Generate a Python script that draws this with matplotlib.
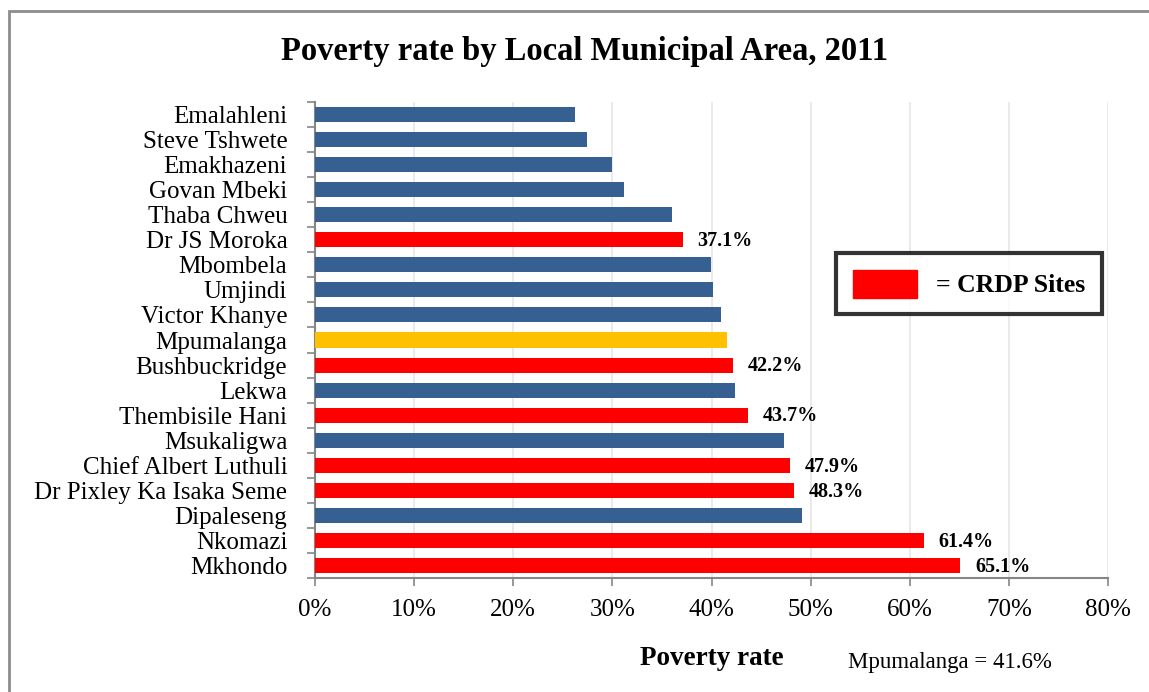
import matplotlib.pyplot as plt
from matplotlib.patches import Patch, Rectangle
import numpy as np

areas = ["Emalahleni", "Steve Tshwete", "Emakhazeni", "Govan Mbeki", "Thaba Chweu",
         "Dr JS Moroka", "Mbombela", "Umjindi", "Victor Khanye", "Mpumalanga",
         "Bushbuckridge", "Lekwa", "Thembisile Hani", "Msukaligwa",
         "Chief Albert Luthuli", "Dr Pixley Ka Isaka Seme", "Dipaleseng",
         "Nkomazi", "Mkhondo"]
rate = np.array([26.2, 27.4, 30.0, 31.2, 36.0, 37.1, 39.9, 40.1, 41.0, 41.6,
                 42.2, 42.4, 43.7, 47.3, 47.9, 48.3, 49.1, 61.4, 65.1])
crdp = ["Dr JS Moroka", "Bushbuckridge", "Thembisile Hani", "Chief Albert Luthuli",
        "Dr Pixley Ka Isaka Seme", "Nkomazi", "Mkhondo"]
province = "Mpumalanga"
province_rate = 41.6

BLUE = "#376092"
RED = "#ff0000"
GOLD = "#ffc000"
AXIS_GREY = "#868686"

plt.rcParams["font.family"] = ["Liberation Serif", "DejaVu Serif"]

colors = []
for a in areas:
    if a == province:
        colors.append(GOLD)
    elif a in crdp:
        colors.append(RED)
    else:
        colors.append(BLUE)

fig = plt.figure(figsize=(11.49, 6.92), dpi=100)
ax = fig.add_axes([0.2742, 0.1647, 0.6901, 0.6879])

y = np.arange(len(areas))
ax.barh(y, rate, height=0.6, color=colors, zorder=3)

# value labels on the CRDP bars only
for yi, a, v in zip(y, areas, rate):
    if a in crdp:
        ax.text(v + 1.5, yi + 0.05, f"{v:.1f}%", va="center", ha="left",
                fontsize=14.5, fontweight="bold", zorder=4)

ax.set_xlim(0, 80)
ax.set_ylim(len(areas) - 0.5, -0.5)
ax.set_xticks(np.arange(0, 81, 10))
ax.set_xticklabels([f"{t}%" for t in range(0, 81, 10)], fontsize=18)
ax.xaxis.grid(True, color="#e6e6e6", linewidth=1.2, zorder=0)

# category boundaries carry the tick marks, centres carry the names
ax.set_yticks(np.arange(-0.5, len(areas), 1.0))
ax.set_yticklabels([])
ax.set_yticks(y, minor=True)
ax.set_yticklabels(areas, minor=True, fontsize=18)
ax.tick_params(axis="y", which="major", length=6, width=1.2, color=AXIS_GREY, direction="out")
ax.tick_params(axis="y", which="minor", length=0, pad=20)
ax.tick_params(axis="x", length=6, width=1.2, color=AXIS_GREY, pad=9)

for s in ["top", "right"]:
    ax.spines[s].set_visible(False)
for s in ["left", "bottom"]:
    ax.spines[s].set_color(AXIS_GREY)
    ax.spines[s].set_linewidth(1.5)

ax.set_xlabel("Poverty rate", fontsize=19.5, fontweight="bold", labelpad=18)

fig.text(0.509, 0.925, "Poverty rate by Local Municipal Area, 2011",
         ha="center", va="center", fontsize=23.5, fontweight="bold")
fig.text(0.738, 0.043, f"{province} = {province_rate}%", ha="left", va="center", fontsize=16.5)

leg = ax.legend(handles=[Patch(facecolor=RED, edgecolor=RED)], labels=["= CRDP Sites"],
                loc="upper left", bbox_to_anchor=(0.657, 0.683), borderaxespad=0,
                frameon=True, fancybox=False,
                handlelength=2.5, handleheight=1.3, borderpad=0.65, handletextpad=0.75,
                prop={"size": 18.5, "weight": "bold"})
leg.get_frame().set_edgecolor("black")
leg.get_frame().set_linewidth(3)

# outer chart border
fig.patches.append(Rectangle((9 / 1149, -0.1), 1.2, 1 - 11 / 692 + 0.1,
                             transform=fig.transFigure, fill=False,
                             edgecolor="#8c8c8c", linewidth=2))

fig.savefig("out.png", dpi=100)
